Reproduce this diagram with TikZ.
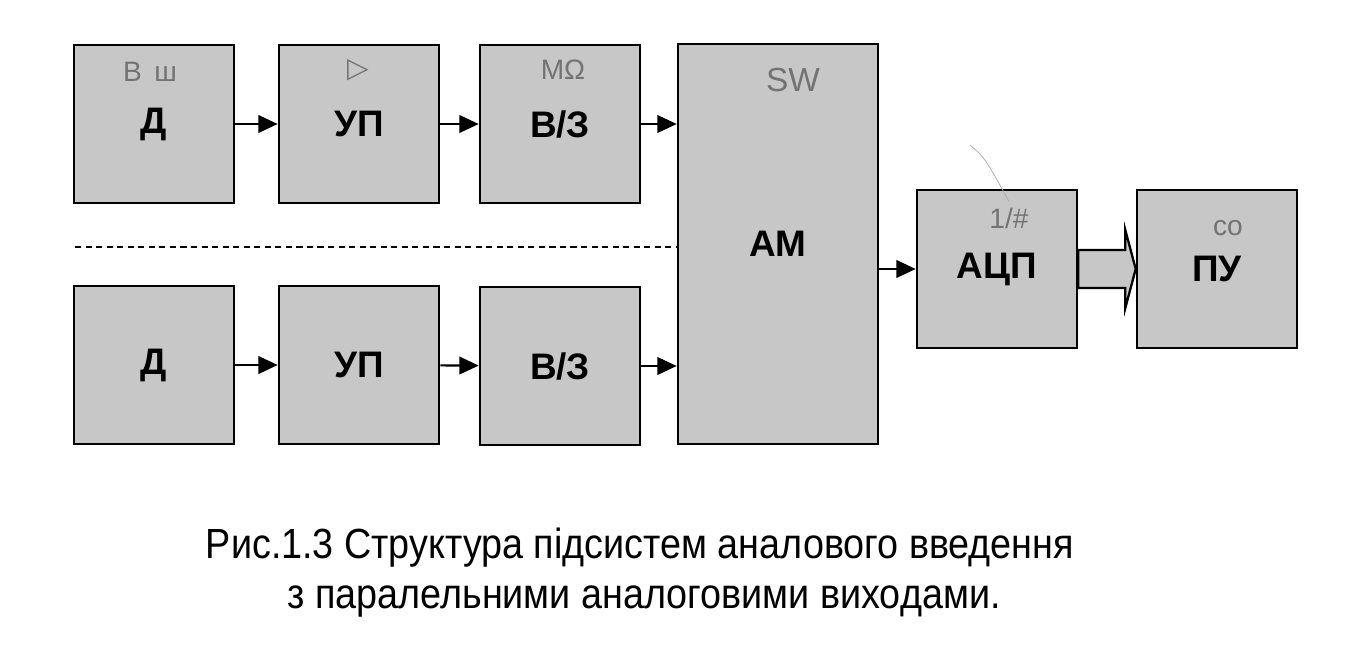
\documentclass[tikz,border=0pt]{standalone}
\usepackage{fontspec}
\setmainfont{Liberation Sans}
\newfontfamily\capfont[FakeStretch=0.895]{Liberation Sans}
\newfontfamily\symfont{DejaVu Sans}
\usepackage{tikz}
\usetikzlibrary{arrows.meta}
\usetikzlibrary{calc}
\definecolor{boxgray}{gray}{0.78}
\definecolor{penc}{gray}{0.45}

\begin{document}
\begin{tikzpicture}[x={(0.02cm,0)},y={(0,-0.02cm)},
    blk/.style = {draw, fill = boxgray, line width = 1.5pt, inner sep = 0pt,
      minimum width = 3.2cm, minimum height = 3.16cm,
      font = \fontsize{21}{23}\selectfont\bfseries},
    arr/.style = {line width = 1.2pt, -{Triangle[length = 11pt, width = 10pt]}},
    hand/.style = {text = penc, font = \fontsize{16}{18}\selectfont}]
        \useasboundingbox (0,0) rectangle (1351,654);

        \node [blk](d1) at (154,124){Д};
        \node [blk](up1) at (359,124){УП};
        \node [blk](vz1) at (560,124){В/З};
        \node [blk](d2) at (154,365){Д};
        \node [blk](up2) at (359,365){УП};
        \node [blk](vz2) at (560,366){В/З};
        \node [blk, minimum width = 4.0cm, minimum height = 8.0cm](am) at (778,244){АМ};
        \node [blk](adc) at (997,269){АЦП};
        \node [blk](pu) at (1217,269){ПУ};

        \node [hand](n1) at (150,72){B\, ш};
        \node [hand](n2) at (358,70){\symfont ▷};
        \node [hand](n3) at (563,70){MΩ};
        \node [hand, font = \fontsize{19}{21}\selectfont](n4) at (793,80){SW};
        \node [hand](n5) at (1009,218){1/\#};
        \node [hand](n6) at (1228,228){co};
        \draw [penc!60, line width = 0.4pt] (970,145) .. controls (985,158) .. (n5.north);

        \draw [arr] (d1) -- (up1);
        \draw [arr] (up1) -- (vz1);
        \draw [arr] (vz1.east) -- (vz1.east -| am.west);
        \draw [arr] (d2) -- (up2);
        \draw [arr] (up2) -- (vz2);
        \draw [arr] (vz2.east) -- (vz2.east -| am.west);
        \draw [arr] (am.east |- adc) -- (adc.west);

        \draw [fill = boxgray, line width = 1.3pt, line join = miter]
          ($(adc.east)+(0,-19)$) -- ($(adc.east)+(47,-19)$) -- ($(adc.east)+(47,-39)$)
          -- (pu.west) -- ($(adc.east)+(47,39)$) -- ($(adc.east)+(47,19)$)
          -- ($(adc.east)+(0,19)$) -- cycle;

        \coordinate (dl) at (75,247);
        \draw [dash pattern = on 3.5pt off 2.5pt, line width = 0.6pt] (dl) -- (dl -| am.west);

        \node [font = \capfont\fontsize{24}{26}\selectfont](cap1) at (640,548)
          {Рис.1.3 Структура підсистем аналового введення};
        \node [font = \capfont\fontsize{24}{26}\selectfont](cap2) at (644,602)
          {з паралельними аналоговими виходами.};
      \end{tikzpicture}
\end{document}
